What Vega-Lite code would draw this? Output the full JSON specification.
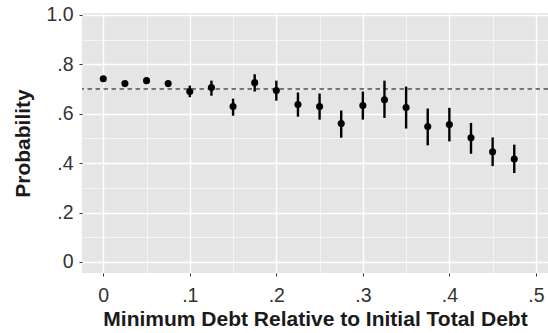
{
  "$schema": "https://vega.github.io/schema/vega-lite/v6.json",
  "width": 466,
  "height": 260,
  "autosize": {"type": "none"},
  "padding": {"left": 82, "top": 13, "right": 0, "bottom": 60},
  "background": "white",
  "config": {
    "view": {"fill": "#E5E5E5", "stroke": null},
    "font": "Liberation Sans",
    "axis": {
      "domain": false,
      "gridColor": "white",
      "tickColor": "#333333",
      "tickSize": 3,
      "labelFlush": false,
      "labelOverlap": false,
      "labelFont": "Liberation Sans",
      "labelFontSize": 19.5,
      "labelColor": "#333333",
      "titleFont": "Liberation Sans",
      "titleFontSize": 21,
      "titleFontWeight": "bold",
      "titleColor": "#1a1a1a"
    }
  },
  "datasets": {
    "pts": [
      {"x": 0.0, "p": 0.742, "lo": 0.735, "hi": 0.749},
      {"x": 0.025, "p": 0.722, "lo": 0.715, "hi": 0.729},
      {"x": 0.05, "p": 0.734, "lo": 0.727, "hi": 0.741},
      {"x": 0.075, "p": 0.722, "lo": 0.709, "hi": 0.734},
      {"x": 0.1, "p": 0.690, "lo": 0.667, "hi": 0.714},
      {"x": 0.125, "p": 0.706, "lo": 0.673, "hi": 0.734},
      {"x": 0.15, "p": 0.629, "lo": 0.592, "hi": 0.661},
      {"x": 0.175, "p": 0.726, "lo": 0.690, "hi": 0.760},
      {"x": 0.2, "p": 0.694, "lo": 0.653, "hi": 0.734},
      {"x": 0.225, "p": 0.637, "lo": 0.588, "hi": 0.686},
      {"x": 0.25, "p": 0.629, "lo": 0.576, "hi": 0.682},
      {"x": 0.275, "p": 0.560, "lo": 0.503, "hi": 0.613},
      {"x": 0.3, "p": 0.633, "lo": 0.576, "hi": 0.690},
      {"x": 0.325, "p": 0.657, "lo": 0.583, "hi": 0.734},
      {"x": 0.35, "p": 0.625, "lo": 0.540, "hi": 0.710},
      {"x": 0.375, "p": 0.548, "lo": 0.472, "hi": 0.621},
      {"x": 0.4, "p": 0.556, "lo": 0.488, "hi": 0.624},
      {"x": 0.425, "p": 0.503, "lo": 0.438, "hi": 0.563},
      {"x": 0.45, "p": 0.446, "lo": 0.388, "hi": 0.504},
      {"x": 0.475, "p": 0.417, "lo": 0.360, "hi": 0.475}
    ],
    "ref": [{"r": 0.7}]
  },
  "resolve": {"axis": {"x": "independent", "y": "independent"}},
  "layer": [
    {
      "data": {"name": "pts"},
      "mark": {"type": "point", "opacity": 0},
      "encoding": {
        "x": {"field": "x", "type": "quantitative", "scale": {"domain": [-0.0246, 0.514], "nice": false, "zero": false},
          "axis": {"orient": "top", "values": [0.05, 0.15, 0.25, 0.35, 0.45], "labels": false, "ticks": false, "title": null, "grid": true, "gridWidth": 0.6}},
        "y": {"field": "p", "type": "quantitative", "scale": {"domain": [-0.045, 1.008], "nice": false, "zero": false},
          "axis": {"orient": "right", "values": [0.1, 0.3, 0.5, 0.7, 0.9], "labels": false, "ticks": false, "title": null, "grid": true, "gridWidth": 0.6}}
      }
    },
    {
      "data": {"name": "pts"},
      "mark": {"type": "rule", "color": "black", "strokeWidth": 2.4},
      "encoding": {
        "x": {"field": "x", "type": "quantitative",
          "axis": {"orient": "bottom", "values": [0, 0.1, 0.2, 0.3, 0.4, 0.5], "grid": true, "gridWidth": 1.3, "labelPadding": 10,
            "labelExpr": "datum.value == 0 ? '0' : replace(format(datum.value, '.1f'), /^0/, '')",
            "title": "Minimum Debt Relative to Initial Total Debt", "titlePadding": 4}},
        "y": {"field": "lo", "type": "quantitative",
          "axis": {"orient": "left", "values": [0, 0.2, 0.4, 0.6, 0.8, 1.0], "grid": true, "gridWidth": 1.3, "labelPadding": 6,
            "labelExpr": "datum.value == 0 ? '0' : replace(format(datum.value, '.1f'), /^0/, '')",
            "title": "Probability", "titlePadding": 12}},
        "y2": {"field": "hi"}
      }
    },
    {
      "data": {"name": "pts"},
      "mark": {"type": "point", "filled": true, "color": "black", "opacity": 1, "size": 50},
      "encoding": {
        "x": {"field": "x", "type": "quantitative", "axis": null},
        "y": {"field": "p", "type": "quantitative", "axis": null}
      }
    },
    {
      "data": {"name": "ref"},
      "mark": {"type": "rule", "color": "black", "strokeWidth": 1.1, "strokeDash": [4.5, 3.5]},
      "encoding": {
        "y": {"field": "r", "type": "quantitative", "axis": null}
      }
    }
  ]
}
